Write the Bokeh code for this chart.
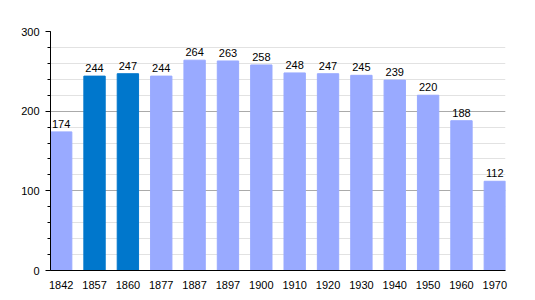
from bokeh.plotting import figure
from bokeh.models import Range1d, ColumnDataSource, FixedTicker, LabelSet
from bokeh.core.properties import value
from bokeh.embed import file_html
from bokeh.resources import INLINE

years = ["1842", "1857", "1860", "1877", "1887", "1897", "1900", "1910",
         "1920", "1930", "1940", "1950", "1960", "1970"]
population = [174, 244, 247, 244, 264, 263, 258, 248, 247, 245, 239, 220, 188, 112]
highlighted = ["1857", "1860"]

LIGHT = "#99aaff"
DARK = "#0077cc"
W = 0.64

xs = list(range(len(years)))
colors = [DARK if y in highlighted else LIGHT for y in years]
source = ColumnDataSource(dict(x=xs, top=population, color=colors,
                               label=[str(v) for v in population]))

p = figure(width=535, height=300, output_backend="svg", toolbar_location=None,
           x_range=Range1d(-W / 2, len(years) - 1 + W / 2),
           y_range=Range1d(0, 300),
           min_border_left=50, min_border_right=30,
           min_border_top=31, min_border_bottom=30)
p.outline_line_color = None
p.background_fill_color = "white"
p.border_fill_color = "white"

p.vbar(x="x", top="top", width=W, bottom=0, color="color", source=source)

labels = LabelSet(x="x", y="top", text="label", source=source,
                  text_align="center", text_baseline="bottom", y_offset=4,
                  text_font=value("Liberation Sans"),
                  text_font_size=value("11px"),
                  text_color="black")
p.add_layout(labels)

# x axis
p.xaxis.ticker = FixedTicker(ticks=xs)
p.xaxis.major_label_overrides = {i: y for i, y in enumerate(years)}
p.xaxis.major_tick_line_color = None
p.xaxis.minor_tick_line_color = None
p.xaxis.axis_line_color = "black"
p.xaxis.major_label_text_font = "Liberation Sans"
p.xaxis.major_label_text_font_size = "11px"
p.xaxis.major_label_text_color = "black"
p.xaxis.major_label_standoff = 4
p.xgrid.grid_line_color = None

# y axis
p.yaxis.ticker = FixedTicker(ticks=[0, 100, 200, 300],
                             minor_ticks=list(range(0, 301, 20)))
p.yaxis.axis_line_color = "black"
p.yaxis.major_tick_line_color = "black"
p.yaxis.minor_tick_line_color = "black"
p.yaxis.major_tick_out = 5
p.yaxis.major_tick_in = 0
p.yaxis.minor_tick_out = 3
p.yaxis.minor_tick_in = 0
p.yaxis.major_label_text_font = "Liberation Sans"
p.yaxis.major_label_text_font_size = "11px"
p.yaxis.major_label_text_color = "black"
p.yaxis.major_label_standoff = 6
p.ygrid.grid_line_color = "#aaaaaa"
p.ygrid.minor_grid_line_color = "#e2e2e2"
p.ygrid.level = "underlay"

open("out.html", "w").write(file_html(p, INLINE))
